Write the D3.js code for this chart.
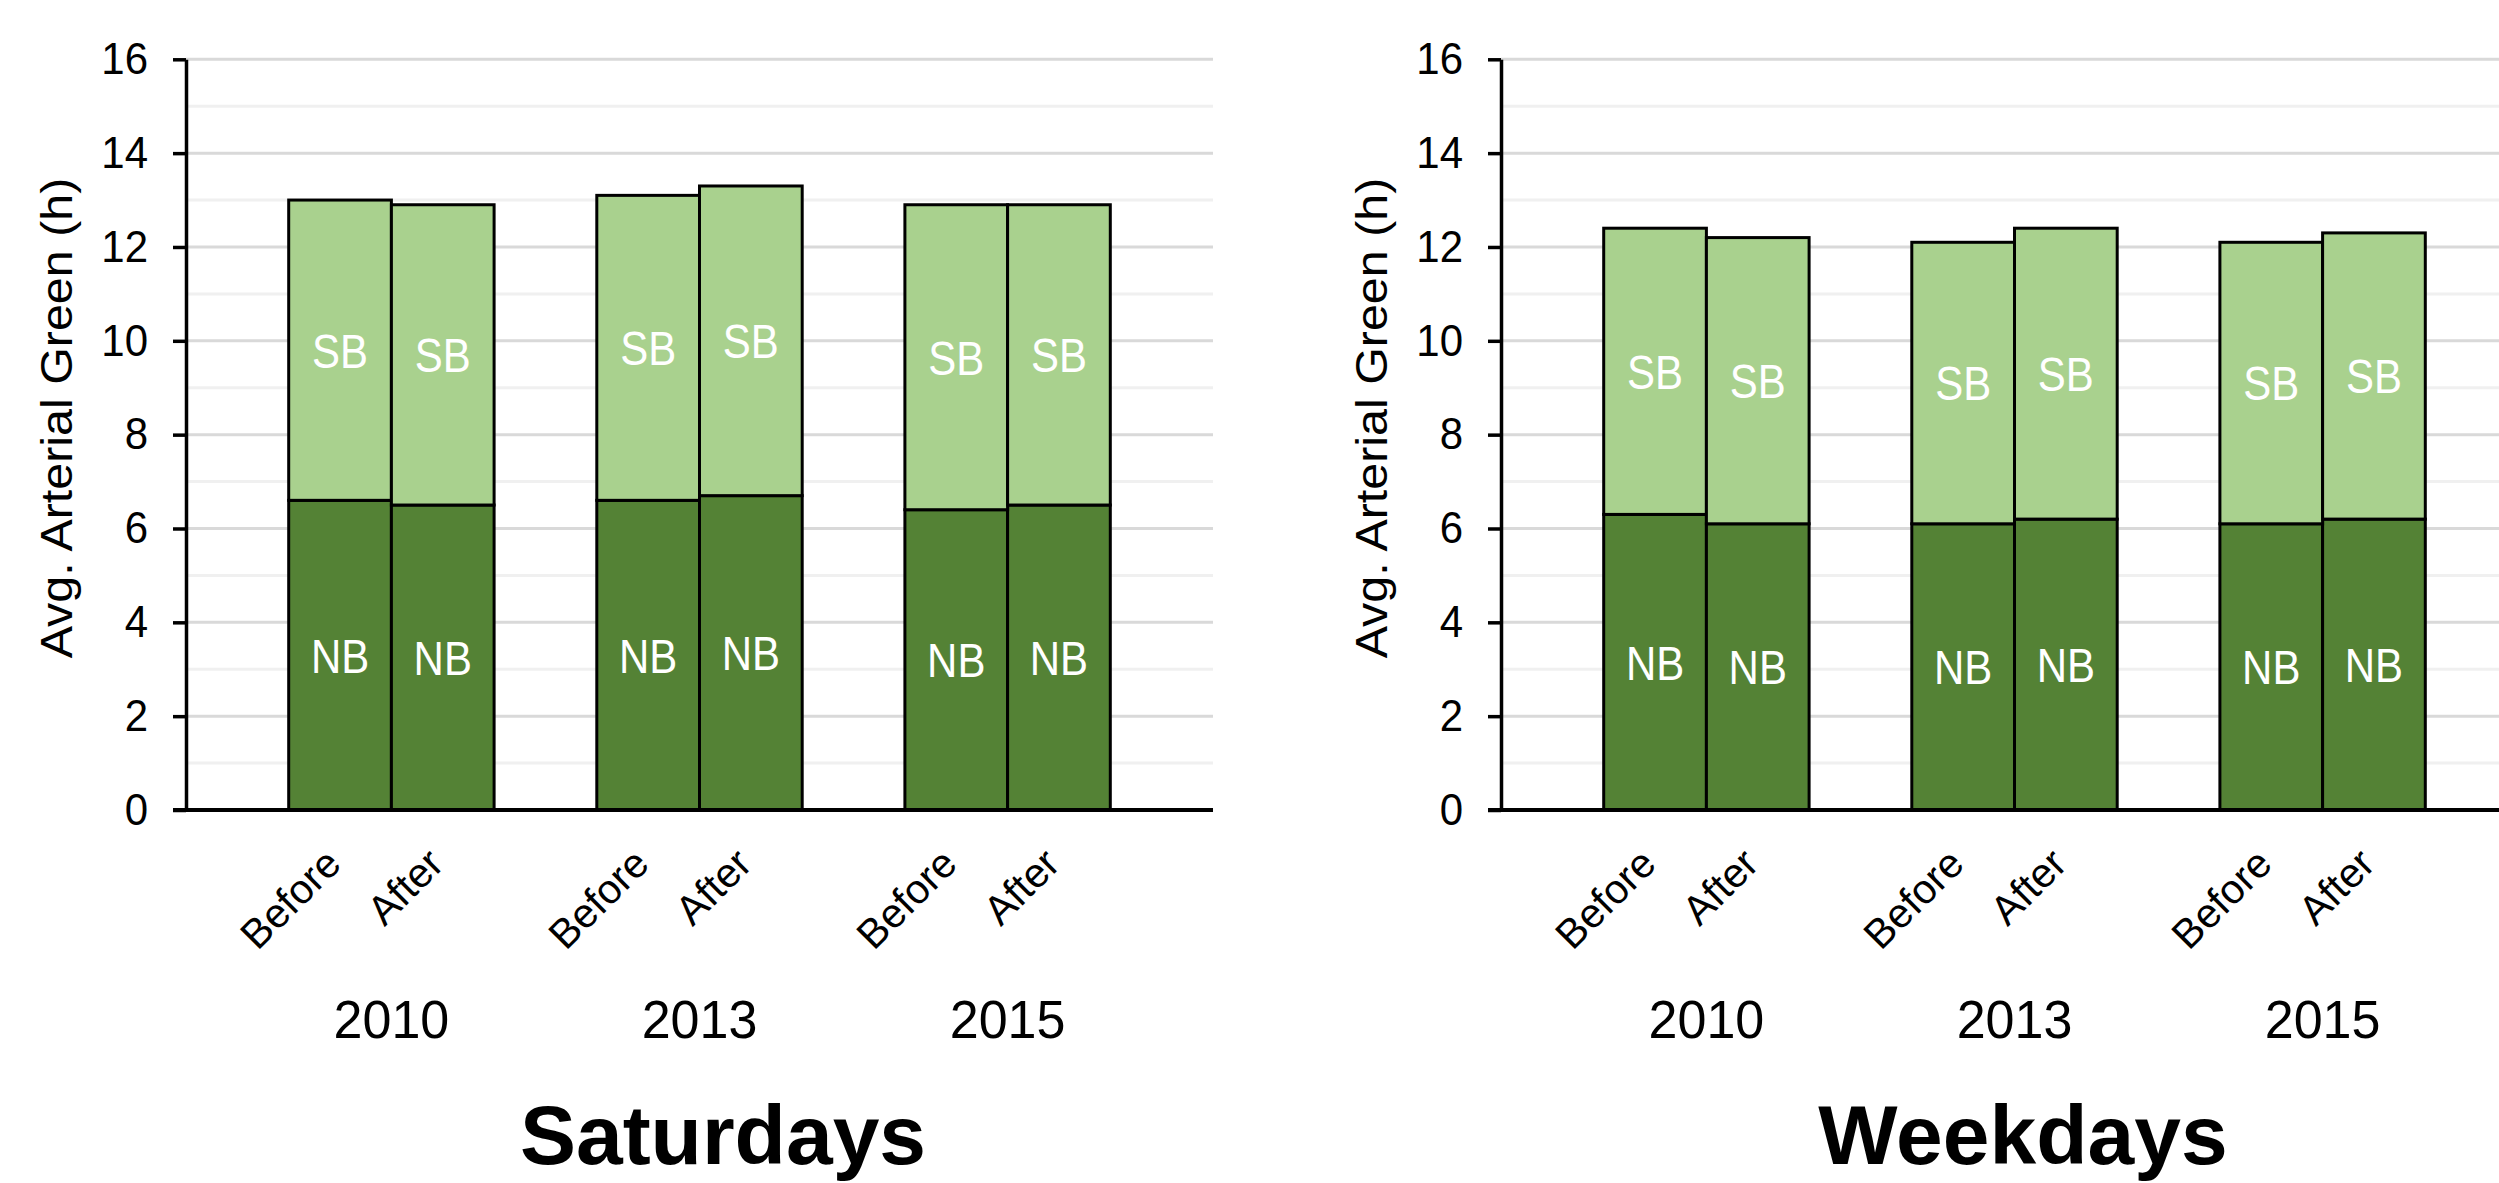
<!DOCTYPE html>
<html><head><meta charset="utf-8">
<script src="https://cdn.jsdelivr.net/npm/d3@7"></script>
<style>html,body{margin:0;padding:0;background:#fff;overflow:hidden}</style>
</head><body><svg id="c" width="2499" height="1183"></svg>
<script>
// ---- data ----
const years = ["2010", "2013", "2015"];
const phases = ["Before", "After"];
const panelTitles = ["Saturdays", "Weekdays"];
const segLabels = ["NB", "SB"];
// order: 2010 Before, 2010 After, 2013 Before, 2013 After, 2015 Before, 2015 After
const satNB = [6.6, 6.5, 6.6, 6.7, 6.4, 6.5];
const satSB = [6.4, 6.4, 6.5, 6.6, 6.5, 6.4];
const wkNB  = [6.3, 6.1, 6.1, 6.2, 6.1, 6.2];
const wkSB  = [6.1, 6.1, 6.0, 6.2, 6.0, 6.1];
const yTicks = [0, 2, 4, 6, 8, 10, 12, 14, 16];
const yMinorTicks = [1, 3, 5, 7, 9, 11, 13, 15];
const yAxisTitle = "Avg. Arterial Green (h)";

// ---- layout ----
const FONT = "'Liberation Sans', Arial, sans-serif";
const L = {
  axisX: [186, 1501], plotW: 1027, yTop: 59.3, yBot: 810,
  titleX: [723, 2023], titleY: 1164, yearY: 1038, catY: 866,
  colNB: "#548235", colSB: "#A9D18E"
};

const svg = d3.select("#c");
const y = d3.scaleLinear().domain([0, 16]).range([L.yBot, L.yTop]);

function drawPanel(idx, nb, sb) {
  const ax = L.axisX[idx];
  const g = svg.append("g");
  const x0 = d3.scaleBand().domain(years).range([ax, ax + L.plotW]).paddingInner(1/3).paddingOuter(1/3);
  const x1 = d3.scaleBand().domain(phases).range([0, x0.bandwidth()]).padding(0);

  // gridlines
  g.selectAll("line.minor").data(yMinorTicks).join("line")
    .attr("x1", ax).attr("x2", ax + L.plotW)
    .attr("y1", d => y(d)).attr("y2", d => y(d))
    .attr("stroke", "#f0f0f0").attr("stroke-width", 3);
  g.selectAll("line.major").data(yTicks.filter(d => d > 0)).join("line")
    .attr("x1", ax).attr("x2", ax + L.plotW)
    .attr("y1", d => y(d)).attr("y2", d => y(d))
    .attr("stroke", "#d9d9d9").attr("stroke-width", 3);

  const rows = [];
  years.forEach((yr, gi) => phases.forEach((ph, pi) => {
    const k = gi * 2 + pi;
    rows.push({yr, ph, nb: nb[k], sb: sb[k]});
  }));

  const bx = d => x0(d.yr) + x1(d.ph);
  const bw = x1.bandwidth();
  // NB segment
  g.selectAll("rect.nb").data(rows).join("rect")
    .attr("x", bx).attr("width", bw)
    .attr("y", d => y(d.nb)).attr("height", d => y(0) - y(d.nb))
    .attr("fill", L.colNB).attr("stroke", "#000").attr("stroke-width", 3);
  // SB segment
  g.selectAll("rect.sb").data(rows).join("rect")
    .attr("x", bx).attr("width", bw)
    .attr("y", d => y(d.nb + d.sb)).attr("height", d => y(d.nb) - y(d.nb + d.sb))
    .attr("fill", L.colSB).attr("stroke", "#000").attr("stroke-width", 3);

  // segment labels (slightly tall glyphs as in the reference)
  g.selectAll("text.nbl").data(rows).join("text")
    .attr("transform", d => `translate(${bx(d) + bw / 2},${y(d.nb / 2)}) scale(1,1.15)`)
    .attr("dy", "0.36em")
    .attr("text-anchor", "middle").attr("fill", "#fff")
    .style("font-family", FONT).style("font-size", "42px").text(segLabels[0]);
  g.selectAll("text.sbl").data(rows).join("text")
    .attr("transform", d => `translate(${bx(d) + bw / 2},${y(d.nb + d.sb / 2)}) scale(1,1.15)`)
    .attr("dy", "0.36em")
    .attr("text-anchor", "middle").attr("fill", "#fff")
    .style("font-family", FONT).style("font-size", "42px").text(segLabels[1]);

  // y axis
  const yAxis = d3.axisLeft(y).tickValues(yTicks).tickSize(13).tickSizeOuter(0).tickPadding(25)
    .tickFormat(d3.format("d"));
  const ag = g.append("g").attr("transform", `translate(${ax},0)`).call(yAxis);
  ag.select(".domain").attr("stroke", "#000").attr("stroke-width", 3.5);
  ag.selectAll(".tick line").attr("stroke", "#000").attr("stroke-width", 3.5);
  ag.selectAll(".tick text").style("font-family", FONT).style("font-size", "42px").attr("fill", "#000")
    .attr("transform", "scale(1,1.06)");

  // baseline
  g.append("line").attr("x1", ax - 13).attr("x2", ax + L.plotW)
    .attr("y1", y(0)).attr("y2", y(0)).attr("stroke", "#000").attr("stroke-width", 4);

  // category labels (rotated)
  g.selectAll("text.cat").data(rows).join("text")
    .attr("transform", d => `translate(${bx(d) + bw / 2 + 3},${L.catY}) rotate(-45)`)
    .attr("text-anchor", "end")
    .style("font-family", FONT).style("font-size", "41px").text(d => d.ph);

  // year labels
  g.selectAll("text.yr").data(years).join("text")
    .attr("transform", d => `translate(${x0(d) + x0.bandwidth() / 2},${L.yearY}) scale(1,1.04)`)
    .attr("text-anchor", "middle")
    .style("font-family", FONT).style("font-size", "52px").text(d => d);

  // y axis title
  g.append("text")
    .attr("transform", `translate(${ax - 114},418) rotate(-90) scale(1.1,1)`)
    .attr("text-anchor", "middle")
    .style("font-family", FONT).style("font-size", "44px").text(yAxisTitle);

  // panel title
  g.append("text").attr("x", L.titleX[idx]).attr("y", L.titleY)
    .attr("text-anchor", "middle")
    .style("font-family", FONT).style("font-size", "84px").style("font-weight", "bold")
    .text(panelTitles[idx]);
}

drawPanel(0, satNB, satSB);
drawPanel(1, wkNB, wkSB);
</script>
</body></html>
